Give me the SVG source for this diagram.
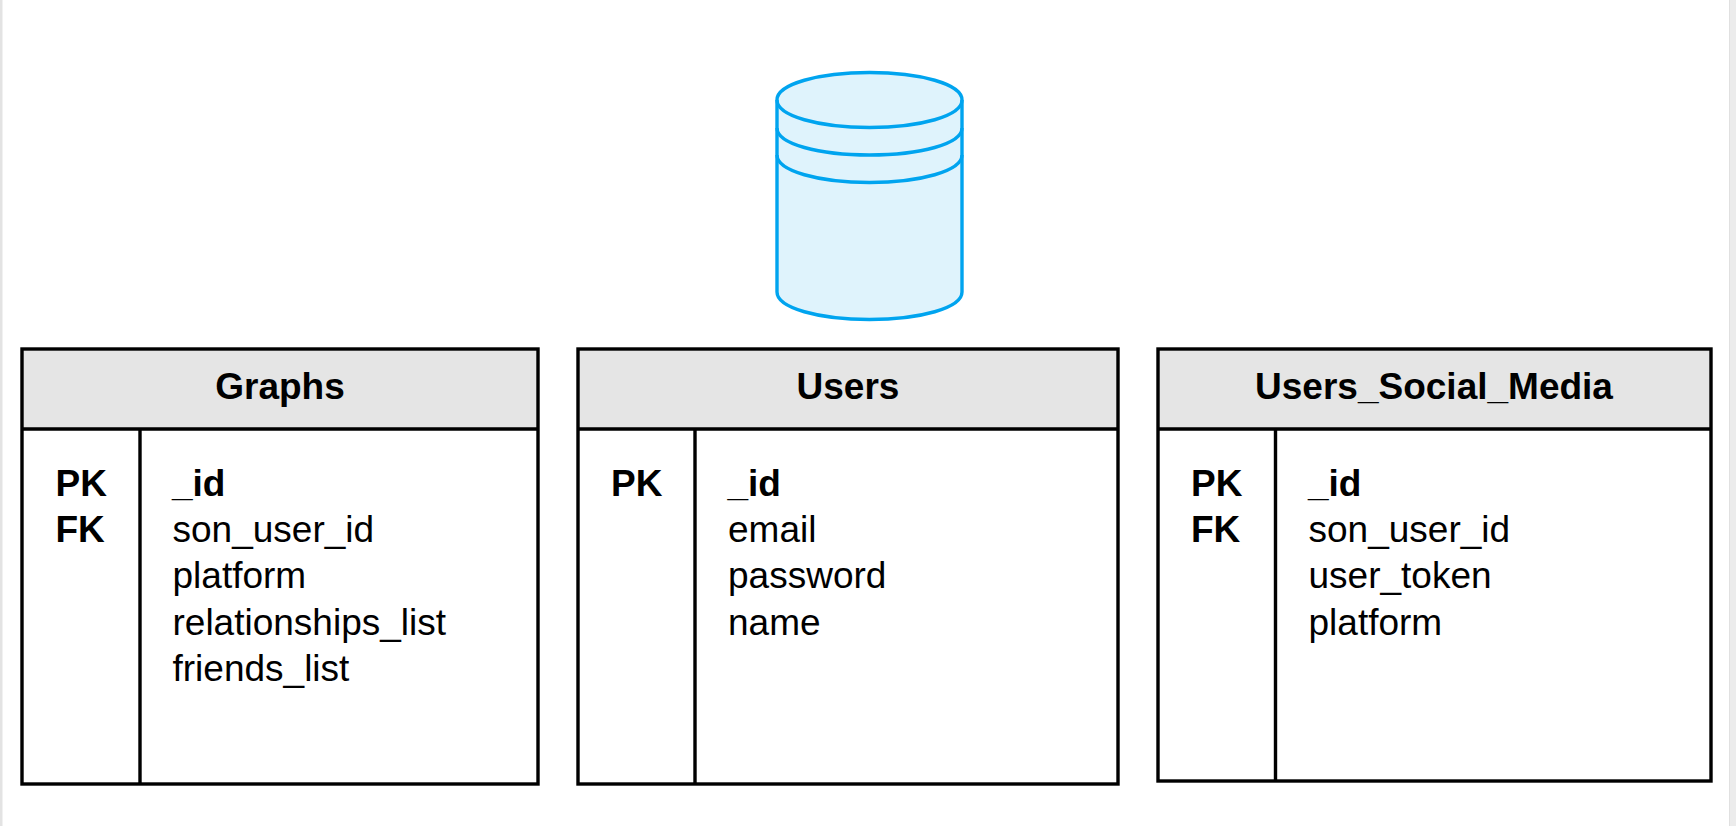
<svg xmlns="http://www.w3.org/2000/svg" width="1736" height="826" viewBox="0 0 1736 826">
<style>
.head{fill:#e5e5e5;stroke:none}
.ln{fill:none;stroke:#000;stroke-width:3.4}
.t{font-family:"Liberation Sans",Arial,sans-serif;font-size:37px;fill:#000}
.b{font-weight:700}
.m{text-anchor:middle}
.cy{fill:#dff3fc;stroke:#00a4ef;stroke-width:3.4;stroke-linejoin:round}
.cl{fill:none;stroke:#00a4ef;stroke-width:3.4}
</style>
<rect width="1736" height="826" fill="#fff"/>
<rect x="0" y="0" width="2.500" height="826" fill="#e3e3e3"/>
<rect x="1729" y="0" width="7" height="826" fill="#ececec"/>
<rect x="1729" y="0" width="1" height="826" fill="#e0e0e0"/>
<g id="db">
<path class="cy" d="M777 100C777 84 819 72.500 869.500 72.500C920 72.500 962 84 962 100V292C962 308 920 319.500 869.500 319.500C819 319.500 777 308 777 292Z"/>
<path class="cl" d="M777 100C777 116 819 127.500 869.500 127.500C920 127.500 962 116 962 100"/>
<path class="cl" d="M777 128C777 144 819 155 869.500 155C920 155 962 144 962 128"/>
<path class="cl" d="M777 155C777 171 819 182.500 869.500 182.500C920 182.500 962 171 962 155"/>
</g>
<g id="graphs">
<rect class="head" x="22" y="349" width="516" height="80"/>
<rect class="ln" x="22" y="349" width="516" height="435"/>
<path class="ln" d="M22 429H538M140 429V784"/>
<text class="t b m" x="280" y="399">Graphs</text>
<text class="t b" x="55.500" y="496">PK</text>
<text class="t b" x="55.500" y="542">FK</text>
<text class="t b" x="172" y="496">_id</text>
<text class="t" x="172.500" y="542">son_user_id</text>
<text class="t" x="172.500" y="588">platform</text>
<text class="t" x="172.500" y="635">relationships_list</text>
<text class="t" x="172.500" y="681">friends_list</text>
</g>
<g id="users">
<rect class="head" x="578" y="349" width="540" height="80"/>
<rect class="ln" x="578" y="349" width="540" height="435"/>
<path class="ln" d="M578 429H1118M695 429V784"/>
<text class="t b m" x="848" y="399">Users</text>
<text class="t b" x="611" y="496">PK</text>
<text class="t b" x="727.500" y="496">_id</text>
<text class="t" x="728" y="542">email</text>
<text class="t" x="728" y="588">password</text>
<text class="t" x="728" y="635">name</text>
</g>
<g id="users_social_media">
<rect class="head" x="1158" y="349" width="553" height="80"/>
<rect class="ln" x="1158" y="349" width="553" height="432"/>
<path class="ln" d="M1158 429H1711M1275.500 429V781"/>
<text class="t b m" x="1434" y="399">Users_Social_Media</text>
<text class="t b" x="1191" y="496">PK</text>
<text class="t b" x="1191" y="542">FK</text>
<text class="t b" x="1308" y="496">_id</text>
<text class="t" x="1308.500" y="542">son_user_id</text>
<text class="t" x="1308.500" y="588">user_token</text>
<text class="t" x="1308.500" y="635">platform</text>
</g>
<g id="connectors"/>
</svg>
